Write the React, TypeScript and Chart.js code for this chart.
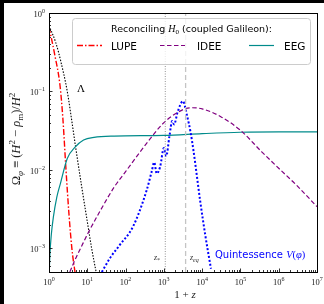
import React, { useEffect, useRef } from "react";
import { Chart, registerables } from "chart.js";
Chart.register(...registerables);

// ---------- data (1+z , Omega) ----------
const lupeZ = [1, 1.43, 1.94, 2.32, 2.78, 3.33, 3.98, 4.77];
const lupeOmega = [0.665, 0.285, 0.119, 0.043, 0.01, 0.0027, 0.00097, 0.0005];

const lambdaZ = [1, 1.5, 2, 3, 4, 5, 7, 10, 13, 17];
const lambdaOmega = [0.69, 0.42, 0.25, 0.1, 0.04, 0.019, 0.0065, 0.0022, 0.001, 0.0005];

const ideeZ = [3.5, 5, 7, 10, 20, 50, 100, 240, 500, 900, 2000, 5000, 10000, 30000, 100000, 360000, 1000000, 3000000, 10000000];
const ideeOmega = [0.0005, 0.00075, 0.00105, 0.0015, 0.0028, 0.006, 0.0095, 0.017, 0.027, 0.038, 0.052, 0.062, 0.06, 0.048, 0.032, 0.017, 0.0105, 0.0063, 0.0034];

const eegZ = [1, 1.05, 1.15, 1.3, 1.6, 2, 3, 4.8, 8, 15, 50, 1000, 10000, 100000, 1000000, 10000000];
const eegOmega = [0.0004, 0.0008, 0.0015, 0.0025, 0.0045, 0.0068, 0.014, 0.0195, 0.024, 0.026, 0.027, 0.0275, 0.029, 0.0302, 0.0305, 0.0305];

const quintZ = [24, 39, 70, 157, 355, 480, 560, 650, 800, 1000, 1150, 1400, 1650, 1850, 2300, 3150, 4000, 5000, 6000, 8900, 12000, 17000];
const quintOmega = [0.0005, 0.00075, 0.0011, 0.0019, 0.0055, 0.0095, 0.0125, 0.009, 0.011, 0.019, 0.015, 0.027, 0.042, 0.038, 0.055, 0.075, 0.05, 0.03, 0.017, 0.004, 0.0015, 0.00055];

const zStar = 1090;
const zEq = 3700;

const xTickExps = [0, 1, 2, 3, 4, 5, 6, 7];
const yTickExps = [-3, -2, -1, 0];

const legendTitle = "Reconciling ";
const legendTitleTail = " (coupled Galileon):";
const legendLabels = ["LUPE", "IDEE", "EEG"];

const X_MIN = 1, X_MAX = 1e7, Y_MIN = 5e-4, Y_MAX = 1;

const pts = (xs: number[], ys: number[]) => xs.map((x, i) => ({ x, y: ys[i] }));

type Seg = { t: string; font: string; dy?: number };
const SERIF = "'Liberation Serif', 'DejaVu Serif', serif";
const SANS = "'DejaVu Sans', sans-serif";

function richWidth(ctx: CanvasRenderingContext2D, segs: Seg[]) {
  let w = 0;
  for (const s of segs) { ctx.font = s.font; w += ctx.measureText(s.t).width; }
  return w;
}
function drawRich(ctx: CanvasRenderingContext2D, segs: Seg[], x: number, y: number, align: string) {
  const w = richWidth(ctx, segs);
  let cx = align === "left" ? x : align === "center" ? x - w / 2 : x - w;
  ctx.textAlign = "left";
  ctx.textBaseline = "alphabetic";
  for (const s of segs) {
    ctx.font = s.font;
    ctx.fillText(s.t, cx, y + (s.dy || 0));
    cx += ctx.measureText(s.t).width;
  }
}

const styles = {
  lupe: { color: "#ff0000", dash: [6, 2, 1.5, 2], width: 1.4 },
  idee: { color: "#800080", dash: [4.5, 2.5], width: 1.2 },
  eeg: { color: "#008b8b", dash: [] as number[], width: 1.2 },
};

const decor = {
  id: "decor",
  beforeDraw(chart: any) {
    const ctx = chart.ctx as CanvasRenderingContext2D;
    ctx.save();
    ctx.fillStyle = "#000";
    ctx.fillRect(0, 0, chart.width, chart.height);
    ctx.fillStyle = "#fff";
    ctx.fillRect(4, 3, chart.width - 4, chart.height - 3);
    ctx.restore();
  },
  afterDatasetsDraw(chart: any) {
    const ctx = chart.ctx as CanvasRenderingContext2D;
    const xs = chart.scales.x, ys = chart.scales.y;
    const a = chart.chartArea;
    ctx.save();
    ctx.fillStyle = "#000";
    ctx.strokeStyle = "#000";
    ctx.setLineDash([]);
    // ticks (inward)
    ctx.lineWidth = 0.8;
    ctx.beginPath();
    for (let e = 0; e < 7; e++) {
      for (let m = 1; m <= 9; m++) {
        const v = m * Math.pow(10, e);
        if (v < X_MIN || v > X_MAX) continue;
        const px = Math.round(xs.getPixelForValue(v)) + 0.5;
        const len = m === 1 ? 3.5 : 2;
        ctx.moveTo(px, a.bottom); ctx.lineTo(px, a.bottom - len);
      }
    }
    for (let e = -4; e <= 0; e++) {
      for (let m = 1; m <= 9; m++) {
        const v = m * Math.pow(10, e);
        if (v < Y_MIN - 1e-12 || v > Y_MAX + 1e-12) continue;
        const py = Math.round(ys.getPixelForValue(v)) + 0.5;
        const len = m === 1 ? 3.5 : 2;
        ctx.moveTo(a.left, py); ctx.lineTo(a.left + len, py);
      }
    }
    ctx.stroke();
    // frame
    ctx.lineWidth = 1;
    ctx.strokeRect(Math.round(a.left) + 0.5, Math.round(a.top) + 0.5, Math.round(a.right - a.left), Math.round(a.bottom - a.top));

    // tick labels
    ctx.fillStyle = "#222";
    for (const e of xTickExps) {
      const px = xs.getPixelForValue(Math.pow(10, e));
      drawRich(ctx, [
        { t: "10", font: `8.5px ${SERIF}` },
        { t: e < 0 ? "\u2212" + -e : String(e), font: `6px ${SERIF}`, dy: -4 },
      ], px, 285, "center");
    }
    for (const e of yTickExps) {
      const py = ys.getPixelForValue(Math.pow(10, e));
      drawRich(ctx, [
        { t: "10", font: `8.5px ${SERIF}` },
        { t: e < 0 ? "\u2212" + -e : String(e), font: `6px ${SERIF}`, dy: -4 },
      ], 45, py + 4, "right");
    }
    // axis titles
    drawRich(ctx, [
      { t: "1 + ", font: `11px ${SERIF}` },
      { t: "z", font: `italic 11px ${SERIF}` },
    ], 185, 298, "center");
    ctx.save();
    ctx.translate(20, 139);
    ctx.rotate(-Math.PI / 2);
    drawRich(ctx, [
      { t: "\u03A9", font: `12.5px ${SERIF}` },
      { t: "\u03C6", font: `italic 9px ${SERIF}`, dy: 2.5 },
      { t: " \u2261 (", font: `12.5px ${SERIF}` },
      { t: "H", font: `italic 12.5px ${SERIF}` },
      { t: "2", font: `9px ${SERIF}`, dy: -5 },
      { t: " \u2212 ", font: `12.5px ${SERIF}` },
      { t: "\u03C1", font: `italic 12.5px ${SERIF}` },
      { t: "m", font: `9px ${SERIF}`, dy: 2.5 },
      { t: ")/", font: `12.5px ${SERIF}` },
      { t: "H", font: `italic 12.5px ${SERIF}` },
      { t: "2", font: `9px ${SERIF}`, dy: -5 },
    ], 0, 0, "center");
    ctx.restore();

    // annotations
    ctx.fillStyle = "#000";
    drawRich(ctx, [{ t: "\u039B", font: `11px ${SERIF}` }], 77, 92, "left");
    ctx.fillStyle = "#333";
    drawRich(ctx, [
      { t: "z", font: `italic 8px ${SERIF}` },
      { t: "*", font: `6px ${SERIF}`, dy: 1.5 },
    ], 154, 260, "left");
    drawRich(ctx, [
      { t: "z", font: `italic 8px ${SERIF}` },
      { t: "eq", font: `italic 6px ${SERIF}`, dy: 1.5 },
    ], 190, 260, "left");
    ctx.fillStyle = "#0000ff";
    drawRich(ctx, [
      { t: "Quintessence ", font: `10px ${SANS}` },
      { t: "V", font: `italic 10.5px ${SERIF}` },
      { t: "(", font: `10.5px ${SERIF}` },
      { t: "\u03C6", font: `italic 10.5px ${SERIF}` },
      { t: ")", font: `10.5px ${SERIF}` },
    ], 215, 258, "left");

    // legend
    const lx = 72.5, ly = 18.5, lw = 238, lh = 46;
    ctx.fillStyle = "rgba(255,255,255,0.8)";
    ctx.strokeStyle = "#cccccc";
    ctx.lineWidth = 1;
    ctx.beginPath();
    (ctx as any).roundRect(lx, ly, lw, lh, 3);
    ctx.fill();
    ctx.stroke();
    ctx.fillStyle = "#000";
    drawRich(ctx, [
      { t: legendTitle, font: `9.5px ${SANS}` },
      { t: "H", font: `italic 10px ${SERIF}` },
      { t: "0", font: `7px ${SERIF}`, dy: 2 },
      { t: legendTitleTail, font: `9.5px ${SANS}` },
    ], lx + lw / 2, 32, "center");
    const entries = [
      { s: styles.lupe, hx: 77, tx: 111 },
      { s: styles.idee, hx: 160, tx: 197 },
      { s: styles.eeg, hx: 249, tx: 284 },
    ];
    entries.forEach((en, i) => {
      ctx.strokeStyle = en.s.color;
      ctx.lineWidth = en.s.width;
      ctx.setLineDash(en.s.dash);
      ctx.beginPath();
      ctx.moveTo(en.hx, 45.5);
      ctx.lineTo(en.hx + 25, 45.5);
      ctx.stroke();
      ctx.setLineDash([]);
      ctx.fillStyle = "#000";
      drawRich(ctx, [{ t: legendLabels[i], font: `10.5px ${SANS}` }], en.tx, 49.5, "left");
    });
    ctx.restore();
  },
};

export default function App() {
  const ref = useRef<HTMLCanvasElement>(null);
  useEffect(() => {
    if (!ref.current) return;
    const chart = new Chart(ref.current, {
      type: "line",
      data: {
        datasets: [
          { data: [{ x: zStar, y: Y_MIN }, { x: zStar, y: Y_MAX }], borderColor: "#888888", borderWidth: 0.9, borderDash: [1, 1.5] },
          { data: [{ x: zEq, y: Y_MIN }, { x: zEq, y: Y_MAX }], borderColor: "#c4c4c4", borderWidth: 1.3, borderDash: [5, 3] },
          { data: pts(ideeZ, ideeOmega), borderColor: styles.idee.color, borderWidth: styles.idee.width, borderDash: styles.idee.dash, cubicInterpolationMode: "monotone" },
          { data: pts(quintZ, quintOmega), borderColor: "#0000ff", borderWidth: 2, borderDash: [2, 2], cubicInterpolationMode: "monotone" },
          { data: pts(eegZ, eegOmega), borderColor: styles.eeg.color, borderWidth: styles.eeg.width, cubicInterpolationMode: "monotone" },
          { data: pts(lambdaZ, lambdaOmega), borderColor: "#000000", borderWidth: 1.1, borderDash: [1.5, 1.5], cubicInterpolationMode: "monotone" },
          { data: pts(lupeZ, lupeOmega), borderColor: styles.lupe.color, borderWidth: styles.lupe.width, borderDash: styles.lupe.dash, cubicInterpolationMode: "monotone" },
        ] as any,
      },
      options: {
        animation: false,
        responsive: false,
        devicePixelRatio: 1,
        layout: { padding: { left: 49, top: 13, right: 7, bottom: 32 } },
        elements: { point: { radius: 0 }, line: { fill: false } },
        scales: {
          x: { type: "logarithmic", min: X_MIN, max: X_MAX, display: false },
          y: { type: "logarithmic", min: Y_MIN, max: Y_MAX, display: false },
        },
        plugins: { legend: { display: false }, tooltip: { enabled: false } },
      } as any,
      plugins: [decor],
    });
    return () => chart.destroy();
  }, []);
  return (
    <div style={{ position: "fixed", left: 0, top: 0, width: 324, height: 304 }}>
      <canvas ref={ref} width={324} height={304} style={{ width: 324, height: 304, display: "block" }} />
    </div>
  );
}
